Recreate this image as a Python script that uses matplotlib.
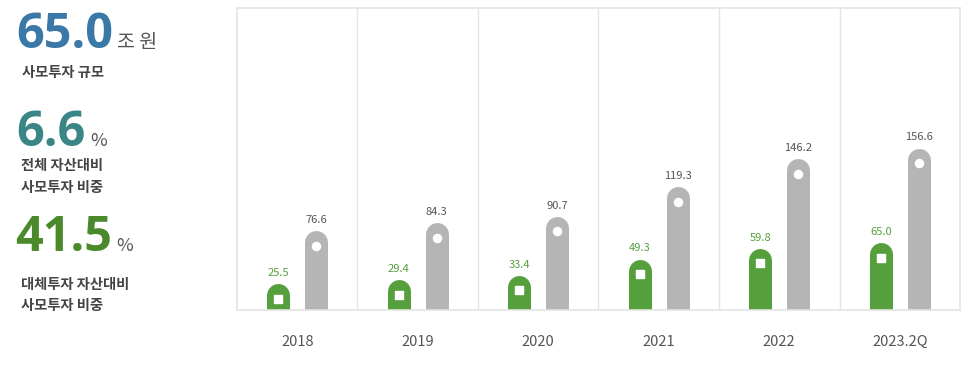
import numpy as np
from matplotlib import pyplot as plt

plt.rcParams['font.family'] = ['Noto Sans CJK KR', 'DejaVu Sans']

years = ['2018', '2019', '2020', '2021', '2022', '2023.2Q']
pe_values = [25.5, 29.4, 33.4, 49.3, 59.8, 65.0]
alt_values = [76.6, 84.3, 90.7, 119.3, 146.2, 156.6]

green = '#55a03c'
grey = '#b5b5b5'
border = '#e4e4e4'

fig = plt.figure(figsize=(9.66, 3.75), dpi=100)

# chart panel
ax = fig.add_axes([0.2453, 0.1733, 0.7485, 0.8054])
ymax = 292.0
ax.set_xlim(0, len(years))
ax.set_ylim(0, ymax)
ax_h_px = 0.8054 * 375
upp = ymax / ax_h_px  # data units per pixel

bar_px = 23
r = bar_px / 2 * upp
off = 0.158
x = np.arange(len(years)) + 0.5

for xi, pe, alt in zip(x, pe_values, alt_values):
    for xc, v, c in [(xi - off, pe, green), (xi + off, alt, grey)]:
        ax.plot([xc, xc], [-20, v - r], color=c, lw=bar_px * 0.72,
                solid_capstyle='round', zorder=2)
    ax.scatter([xi - off], [pe - 15 * upp], marker='s', s=30, color='white', zorder=3)
    ax.scatter([xi + off], [alt - 15 * upp], marker='o', s=34, color='white', zorder=3)
    ax.annotate('%.1f' % pe, (xi - off, pe), xytext=(0, 4), textcoords='offset points',
                ha='center', va='bottom', fontsize=8, color=green)
    ax.annotate('%.1f' % alt, (xi + off, alt), xytext=(0, 4), textcoords='offset points',
                ha='center', va='bottom', fontsize=8, color='#555555')

for xv in range(1, len(years)):
    ax.axvline(xv, color=border, lw=1, zorder=1)

for s in ax.spines.values():
    s.set_color(border)
    s.set_linewidth(1.2)
ax.set_yticks([])
ax.set_xticks(x)
ax.set_xticklabels(years, fontsize=10.5, color='#555555')
ax.tick_params(axis='x', length=0, pad=18)

# left summary text
num_font = ['Open Sans', 'DejaVu Sans']
lab = dict(fontsize=10.3, fontweight='bold', color='#444444', va='center')
fig.text(16 / 966, 1 - 48 / 375, '65.0', fontsize=35, fontweight='bold', color='#3a78a8',
         va='baseline', ha='left', family=num_font)
fig.text(117 / 966, 1 - 48 / 375, '조 원', fontsize=14, color='#555555', va='baseline')
fig.text(22 / 966, 1 - 73 / 375, '사모투자 규모', **lab)

fig.text(16 / 966, 1 - 146 / 375, '6.6', fontsize=35, fontweight='bold', color='#3a8585',
         va='baseline', ha='left', family=num_font)
fig.text(90 / 966, 1 - 146 / 375, '%', fontsize=13, color='#555555', va='baseline')
fig.text(21 / 966, 1 - 166 / 375, '전체 자산대비', **lab)
fig.text(21 / 966, 1 - 188 / 375, '사모투자 비중', **lab)

fig.text(15 / 966, 1 - 251 / 375, '41.5', fontsize=35, fontweight='bold', color='#4a8a2a',
         va='baseline', ha='left', family=num_font)
fig.text(116 / 966, 1 - 251 / 375, '%', fontsize=13, color='#555555', va='baseline')
fig.text(21 / 966, 1 - 285 / 375, '대체투자 자산대비', **lab)
fig.text(21 / 966, 1 - 306 / 375, '사모투자 비중', **lab)

plt.savefig('out.png', dpi=100)
